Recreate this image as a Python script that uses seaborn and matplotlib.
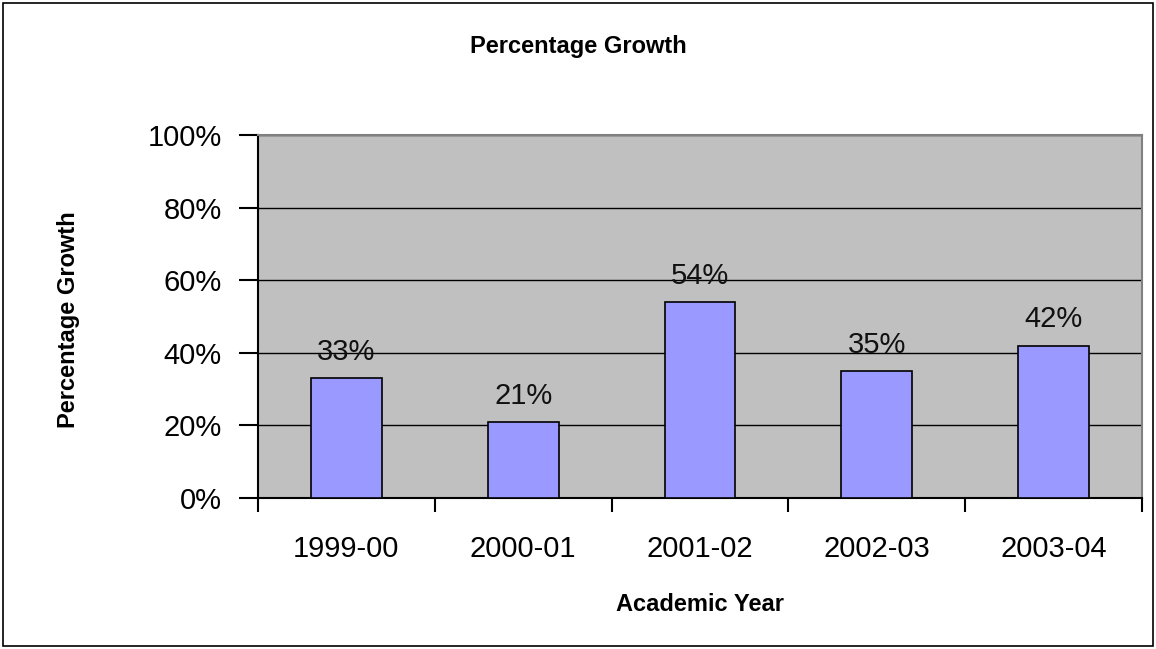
import matplotlib
matplotlib.use("Agg")
import matplotlib.pyplot as plt
import seaborn as sns
import pandas as pd
from matplotlib.patches import Rectangle
from matplotlib.ticker import FixedLocator

years = ["1999-00", "2000-01", "2001-02", "2002-03", "2003-04"]
growth = [33, 21, 54, 35, 42]
labels = ["33%", "21%", "54%", "35%", "42%"]
yticks = [0, 20, 40, 60, 80, 100]
ytick_labels = ["0%", "20%", "40%", "60%", "80%", "100%"]

sns.set_theme(style="white")
plt.rcParams['font.family'] = ['Liberation Sans', 'DejaVu Sans']
plt.rcParams.update({"text.color": "black", "axes.labelcolor": "black",
                     "xtick.color": "black", "ytick.color": "black"})

fig = plt.figure(figsize=(11.56, 6.49), dpi=100)
ax = fig.add_axes([0.2232, 0.2327, 0.9879 - 0.2232, 0.792 - 0.2327])
fig.patches.append(Rectangle((0.003, 0.004), 0.994, 0.992, transform=fig.transFigure,
                             fill=False, edgecolor="black", linewidth=1.2))

df = pd.DataFrame({"year": years, "growth": growth})
sns.barplot(data=df, x="year", y="growth", ax=ax, color="#9999ff", saturation=1,
            width=0.4, edgecolor="black", linewidth=1.2, zorder=3)

ax.set_facecolor("#c0c0c0")
ax.set_ylim(0, 100)
ax.set_xlim(-0.5, 4.5)
ax.set_yticks(yticks)
ax.set_yticklabels(ytick_labels, fontsize=21)
ax.yaxis.grid(True, color="black", linewidth=1.0, zorder=1)
ax.set_axisbelow(True)

ax.xaxis.set_major_locator(FixedLocator([-0.5, 0.5, 1.5, 2.5, 3.5, 4.5]))
ax.set_xticklabels([])
ax.xaxis.set_minor_locator(FixedLocator([0, 1, 2, 3, 4]))
ax.set_xticklabels(years, minor=True, fontsize=21)
ax.tick_params(axis="x", which="major", direction="out", length=10, width=1.5, color="black", bottom=True)
ax.tick_params(axis="x", which="minor", length=0, pad=27)
ax.tick_params(axis="y", direction="out", length=14, width=1.5, color="black", left=True, pad=12)

for i, (v, t) in enumerate(zip(growth, labels)):
    ax.text(i, v + 7.2, t, ha="center", va="center", fontsize=21, color="#111111")

for side in ["left", "bottom"]:
    ax.spines[side].set_color("black")
    ax.spines[side].set_linewidth(1.5)
for side in ["top", "right"]:
    ax.spines[side].set_color("#808080")
    ax.spines[side].set_linewidth(1.5)
    ax.spines[side].set_visible(True)

ax.set_xlabel("Academic Year", fontsize=17, fontweight="bold")
ax.xaxis.set_label_coords(0.5, -0.262)
ax.set_ylabel("Percentage Growth", fontsize=17, fontweight="bold")
ax.yaxis.set_label_coords(-0.201, 0.49)
fig.text(0.5, 1 - 47 / 649, "Percentage Growth", ha="center", va="center",
         fontsize=17, fontweight="bold")

fig.savefig("out.png", dpi=100, facecolor="white")
